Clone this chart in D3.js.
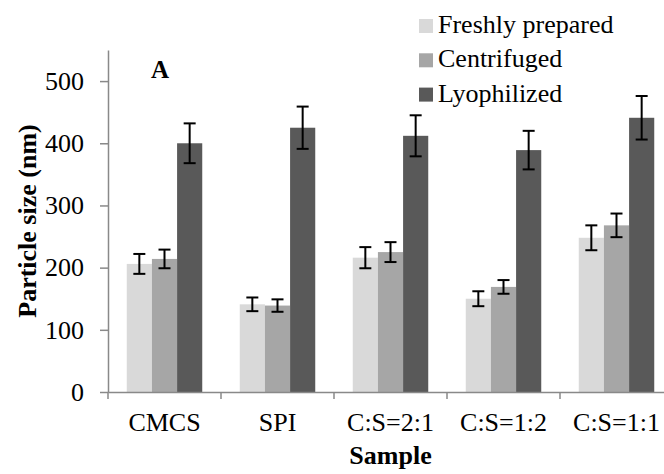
<!DOCTYPE html>
<html>
<head>
<meta charset="utf-8">
<script src="https://cdn.jsdelivr.net/npm/d3@7"></script>
<style>
  html, body { margin: 0; padding: 0; background: #fff; }
  svg { display: block; }
  svg text { font-family: "Liberation Serif", "Tinos", "Times New Roman", "DejaVu Serif", serif; }
</style>
</head>
<body>
<svg id="chart" width="664" height="474"></svg>
<script>
// Particle size of the nanoparticle samples (nm), mean and error
const categories = ["CMCS", "SPI", "C:S=2:1", "C:S=1:2", "C:S=1:1"];
const seriesNames = ["Freshly prepared", "Centrifuged", "Lyophilized"];
const freshValues = [206, 141, 216, 150, 248];
const freshErrors = [16, 11, 17, 12, 20];
const centrifugedValues = [214, 139, 225, 169, 268];
const centrifugedErrors = [15, 10, 16, 11, 19];
const lyophilizedValues = [400, 425, 412, 389, 441];
const lyophilizedErrors = [32, 34, 33, 31, 35];
const yTicks = [0, 100, 200, 300, 400, 500];
const seriesColors = ["#d9d9d9", "#a6a6a6", "#595959"];

const seriesValues = [freshValues, centrifugedValues, lyophilizedValues];
const seriesErrors = [freshErrors, centrifugedErrors, lyophilizedErrors];

const FONT = "'Liberation Serif', 'Tinos', 'Times New Roman', 'DejaVu Serif', serif";
const svg = d3.select("#chart").attr("font-family", FONT);
const axisColor = "#898989";
const plot = { left: 108, right: 673, top: 50, bottom: 392 };

const x = d3.scaleBand().domain(categories).range([plot.left, plot.right]);
const gap = x.bandwidth() * 0.166;
const xSub = d3.scaleBand().domain(seriesNames).range([gap, x.bandwidth() - gap]);
const y = d3.scaleLinear().domain([0, 550]).range([plot.bottom, plot.top]);

// bars
const rows = [];
categories.forEach((c, i) => {
  seriesNames.forEach((s, j) => {
    rows.push({ cat: c, series: s, j, value: seriesValues[j][i], err: seriesErrors[j][i] });
  });
});

svg.append("g").selectAll("rect").data(rows).join("rect")
  .attr("x", d => x(d.cat) + xSub(d.series))
  .attr("y", d => y(d.value))
  .attr("width", xSub.bandwidth())
  .attr("height", d => y(0) - y(d.value))
  .attr("fill", d => seriesColors[d.j]);

// error bars
const capHalf = 6;
const eb = svg.append("g").attr("stroke", "#000").attr("stroke-width", 2);
rows.forEach(d => {
  const cx = x(d.cat) + xSub(d.series) + xSub.bandwidth() / 2;
  const y1 = y(d.value + d.err), y2 = y(d.value - d.err);
  eb.append("line").attr("x1", cx).attr("x2", cx).attr("y1", y1).attr("y2", y2);
  eb.append("line").attr("x1", cx - capHalf).attr("x2", cx + capHalf).attr("y1", y1).attr("y2", y1);
  eb.append("line").attr("x1", cx - capHalf).attr("x2", cx + capHalf).attr("y1", y2).attr("y2", y2);
});

// y axis
const yAxis = d3.axisLeft(y).tickValues(yTicks).tickSize(8).tickPadding(16).tickSizeOuter(0);
const gy = svg.append("g").attr("transform", `translate(${plot.left},0)`).call(yAxis)
  .attr("font-family", FONT).attr("font-size", 26);
gy.select(".domain").attr("stroke", axisColor).attr("stroke-width", 1.5);
gy.selectAll(".tick line").attr("stroke", axisColor).attr("stroke-width", 1.5);
gy.selectAll(".tick text").attr("fill", "#000");

// x axis: category labels, boundary ticks
const xAxis = d3.axisBottom(x).tickSize(0).tickPadding(21);
const gx = svg.append("g").attr("transform", `translate(0,${plot.bottom})`).call(xAxis)
  .attr("font-family", FONT).attr("font-size", 26);
gx.select(".domain").attr("stroke", axisColor).attr("stroke-width", 1.5);
gx.selectAll(".tick text").attr("fill", "#000");
gx.selectAll(".boundary").data(categories).join("line")
  .attr("class", "boundary")
  .attr("x1", d => x(d)).attr("x2", d => x(d))
  .attr("y1", 0).attr("y2", 7)
  .attr("stroke", axisColor).attr("stroke-width", 1.5);

// axis titles
svg.append("text")
  .attr("x", (plot.left + plot.right) / 2).attr("y", 464)
  .attr("text-anchor", "middle").attr("font-size", 26).attr("font-weight", "bold")
  .text("Sample");
svg.append("text")
  .attr("transform", `translate(36,${(plot.top + plot.bottom) / 2}) rotate(-90)`)
  .attr("text-anchor", "middle").attr("font-size", 26).attr("font-weight", "bold")
  .text("Particle size (nm)");

// panel letter
svg.append("text")
  .attr("x", 160).attr("y", 78).attr("text-anchor", "middle")
  .attr("font-size", 25).attr("font-weight", "bold").text("A");

// legend
const legend = svg.append("g");
seriesNames.forEach((s, j) => {
  const base = 33 + j * 34.3;
  legend.append("rect").attr("x", 419).attr("y", base - 14).attr("width", 14).attr("height", 14)
    .attr("fill", seriesColors[j]);
  legend.append("text").attr("x", 438).attr("y", base).attr("font-size", 26).text(s);
});
</script>
</body>
</html>
